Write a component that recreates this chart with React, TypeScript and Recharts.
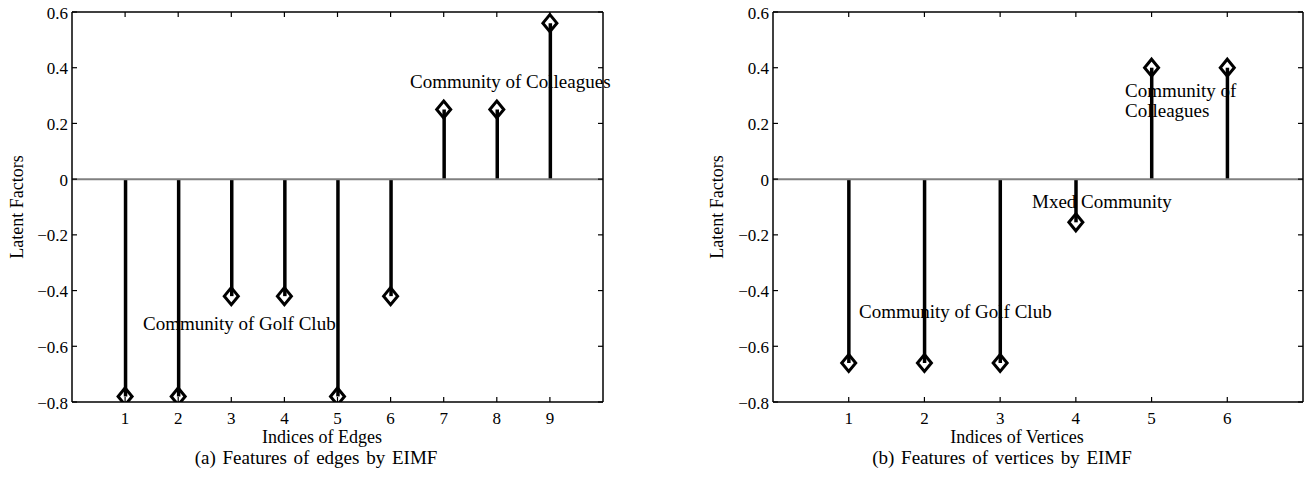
import { ComposedChart, Bar, Scatter, XAxis, YAxis, ReferenceLine } from "recharts";

const edgeIdx = [1, 2, 3, 4, 5, 6, 7, 8, 9];
const edgeVals = [-0.78, -0.78, -0.42, -0.42, -0.78, -0.42, 0.25, 0.25, 0.56];
const vertexIdx = [1, 2, 3, 4, 5, 6];
const vertexVals = [-0.66, -0.66, -0.66, -0.155, 0.4, 0.4];
const yTicks = [-0.8, -0.6, -0.4, -0.2, 0, 0.2, 0.4, 0.6];
const Y_MIN = -0.8;
const Y_MAX = 0.6;

const FONT = "'Liberation Serif', 'Times New Roman', serif";
const H = 479;
const TOP = 12;
const BOTTOM_GAP = 77;
const PLOT_BOTTOM = H - BOTTOM_GAP;
const TICK = 5;

const fmt = (v: number) => (v < 0 ? "\u2212" + Math.abs(v) : String(v));

const Stem = (p: any) => {
  const cx = p.x + p.width / 2;
  return <line x1={cx} x2={cx} y1={p.y} y2={p.y + p.height} stroke="#000" strokeWidth={3.5} />;
};

const Diamond = (p: any) => {
  const { cx, cy } = p;
  return (
    <path
      d={`M${cx},${cy - 8.5} L${cx + 7},${cy} L${cx},${cy + 8.5} L${cx - 7},${cy} Z`}
      fill="none"
      stroke="#000"
      strokeWidth={3}
    />
  );
};

type Note = { text: string; x: number; y: number };

function StemPanel(props: {
  left: number;
  width: number;
  yAxisW: number;
  rightGap: number;
  xMax: number;
  idx: number[];
  vals: number[];
  xLabel: string;
  xLabelX: number;
  caption: string;
  captionX: number;
  yLabelX: number;
  notes: Note[];
}) {
  const { left, width, yAxisW, xMax, idx, vals, rightGap } = props;
  const data = idx.map((x, i) => ({ x, v: vals[i] }));
  const plotLeft = yAxisW;
  const plotW = width - rightGap - plotLeft;
  // tick length expressed in data units
  const dy = (TICK * (Y_MAX - Y_MIN)) / (PLOT_BOTTOM - TOP);
  const dx = (TICK * xMax) / plotW;

  const bottomTick = (p: any) => (
    <text
      x={p.payload.coordinate}
      y={PLOT_BOTTOM + 22}
      textAnchor="middle"
      fontFamily={FONT}
      fontSize={17}
      fill="#000"
    >
      {p.payload.value}
    </text>
  );
  const leftTick = (p: any) => (
    <text
      x={plotLeft - 4}
      y={p.payload.coordinate + 6.5}
      textAnchor="end"
      fontFamily={FONT}
      fontSize={17}
      fill="#000"
    >
      {fmt(p.payload.value)}
    </text>
  );

  return (
    <div style={{ position: "absolute", left, top: 0, width, height: H }}>
      <ComposedChart
        width={width}
        height={H}
        data={data}
        margin={{ top: TOP, right: rightGap, bottom: BOTTOM_GAP - 30, left: 0 }}
      >
        <XAxis
          dataKey="x"
          type="number"
          domain={[0, xMax]}
          ticks={idx}
          height={30}
          axisLine={false}
          tickLine={false}
          tick={bottomTick}
          allowDataOverflow
        />
        <YAxis
          type="number"
          domain={[Y_MIN, Y_MAX]}
          ticks={yTicks}
          width={yAxisW}
          axisLine={false}
          tickLine={false}
          tick={leftTick}
          allowDataOverflow
        />
        <ReferenceLine y={0} stroke="#808080" strokeWidth={2} />
        {idx.map((t) => (
          <ReferenceLine
            key={`tb${t}`}
            segment={[{ x: t, y: Y_MIN }, { x: t, y: Y_MIN + dy }]}
            stroke="#000"
            strokeWidth={1.2}
          />
        ))}
        {idx.map((t) => (
          <ReferenceLine
            key={`tt${t}`}
            segment={[{ x: t, y: Y_MAX }, { x: t, y: Y_MAX - dy }]}
            stroke="#000"
            strokeWidth={1.2}
          />
        ))}
        {yTicks.map((t) => (
          <ReferenceLine
            key={`tl${t}`}
            segment={[{ x: 0, y: t }, { x: dx, y: t }]}
            stroke="#000"
            strokeWidth={1.2}
          />
        ))}
        {yTicks.map((t) => (
          <ReferenceLine
            key={`tr${t}`}
            segment={[{ x: xMax, y: t }, { x: xMax - dx, y: t }]}
            stroke="#000"
            strokeWidth={1.2}
          />
        ))}
        <ReferenceLine y={Y_MAX} stroke="#000" strokeWidth={1.5} />
        <ReferenceLine y={Y_MIN} stroke="#000" strokeWidth={1.5} />
        <ReferenceLine x={0} stroke="#000" strokeWidth={1.5} />
        <ReferenceLine x={xMax} stroke="#000" strokeWidth={1.5} />
        <Bar dataKey="v" barSize={4} shape={Stem} isAnimationActive={false} />
        <Scatter dataKey="v" shape={Diamond} isAnimationActive={false} />
      </ComposedChart>
      <svg
        width={width}
        height={H}
        style={{ position: "absolute", left: 0, top: 0, pointerEvents: "none" }}
        fontFamily={FONT}
      >
        <text
          transform={`translate(${props.yLabelX - left},207) rotate(-90)`}
          textAnchor="middle"
          fontSize={18}
        >
          Latent Factors
        </text>
        <text x={props.xLabelX - left} y={443} textAnchor="middle" fontSize={18}>
          {props.xLabel}
        </text>
        <text x={props.captionX - left} y={464} textAnchor="middle" fontSize={19} wordSpacing={2}>
          {props.caption}
        </text>
        {props.notes.map((n, i) => (
          <text key={i} x={n.x - left} y={n.y} fontSize={19}>
            {n.text}
          </text>
        ))}
      </svg>
    </div>
  );
}

export default function App() {
  return (
    <div style={{ position: "absolute", left: 0, top: 0, width: 1304, height: H, background: "#fff" }}>
      <StemPanel
        left={0}
        width={620}
        yAxisW={72}
        rightGap={17}
        xMax={10}
        idx={edgeIdx}
        vals={edgeVals}
        xLabel="Indices of Edges"
        xLabelX={322}
        caption="(a) Features of edges by EIMF"
        captionX={316}
        yLabelX={23}
        notes={[
          { text: "Community of Colleagues", x: 410, y: 88 },
          { text: "Community of Golf Club", x: 143, y: 330 },
        ]}
      />
      <StemPanel
        left={680}
        width={624}
        yAxisW={93}
        rightGap={1}
        xMax={7}
        idx={vertexIdx}
        vals={vertexVals}
        xLabel="Indices of Vertices"
        xLabelX={1017}
        caption="(b) Features of vertices by EIMF"
        captionX={1002}
        yLabelX={723}
        notes={[
          { text: "Community of", x: 1125, y: 97 },
          { text: "Colleagues", x: 1125, y: 117 },
          { text: "Mxed Community", x: 1032, y: 208 },
          { text: "Community of Golf Club", x: 859, y: 318 },
        ]}
      />
    </div>
  );
}
